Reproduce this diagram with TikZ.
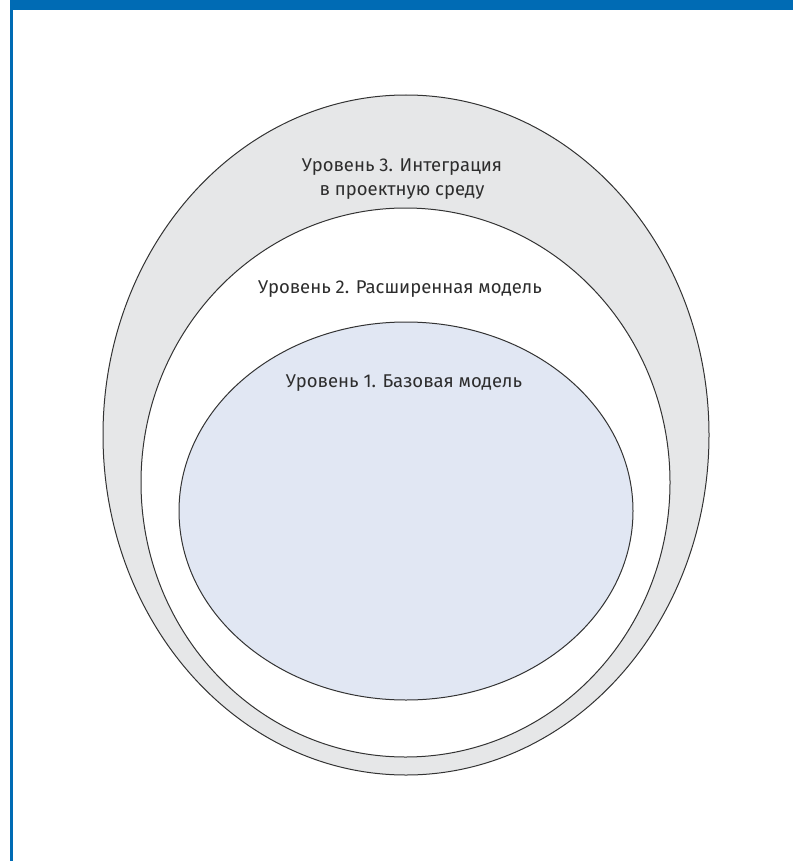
\documentclass[tikz,border=0pt]{standalone}
\usepackage{fontspec}
\setmainfont{Fira Sans}
\usepackage{xcolor}
\usetikzlibrary{shapes.geometric, positioning}

\definecolor{barblue}{RGB}{0,107,180}
\definecolor{ringgray}{RGB}{230,231,232}
\definecolor{coreblue}{RGB}{225,231,243}
\definecolor{textgray}{RGB}{45,45,45}

\begin{document}
\begin{tikzpicture}[
    x=1pt, y=-1pt,
    level/.style={draw=black!80, line width=1pt, ellipse, inner sep=0pt},
    label/.style={text=textgray, font=\fontsize{18.5}{24}\selectfont, align=center}
]
\useasboundingbox (0,0) rectangle (793,861);

% Frame
\fill[barblue] (10,0) rectangle (793,10);
\fill[barblue] (10,10) rectangle (13,861);

% Levels
\node (lvl3) [level, fill=ringgray, minimum width=606pt, minimum height=680pt] at (406,435) {};
\node (lvl2) [level, fill=white, minimum width=529pt, minimum height=549pt] at (405.5,482.5) {};
\node (lvl1) [level, fill=coreblue, minimum width=454pt, minimum height=378pt] at (406,511) {};

% Labels
\node (txt3) [label] at (402,179) {Уровень 3. Интеграция\\в проектную среду};
\node (txt2) [label] at (400,289) {Уровень 2. Расширенная модель};
\node (txt1) [label] at (404,383) {Уровень 1. Базовая модель};

\end{tikzpicture}
\end{document}
